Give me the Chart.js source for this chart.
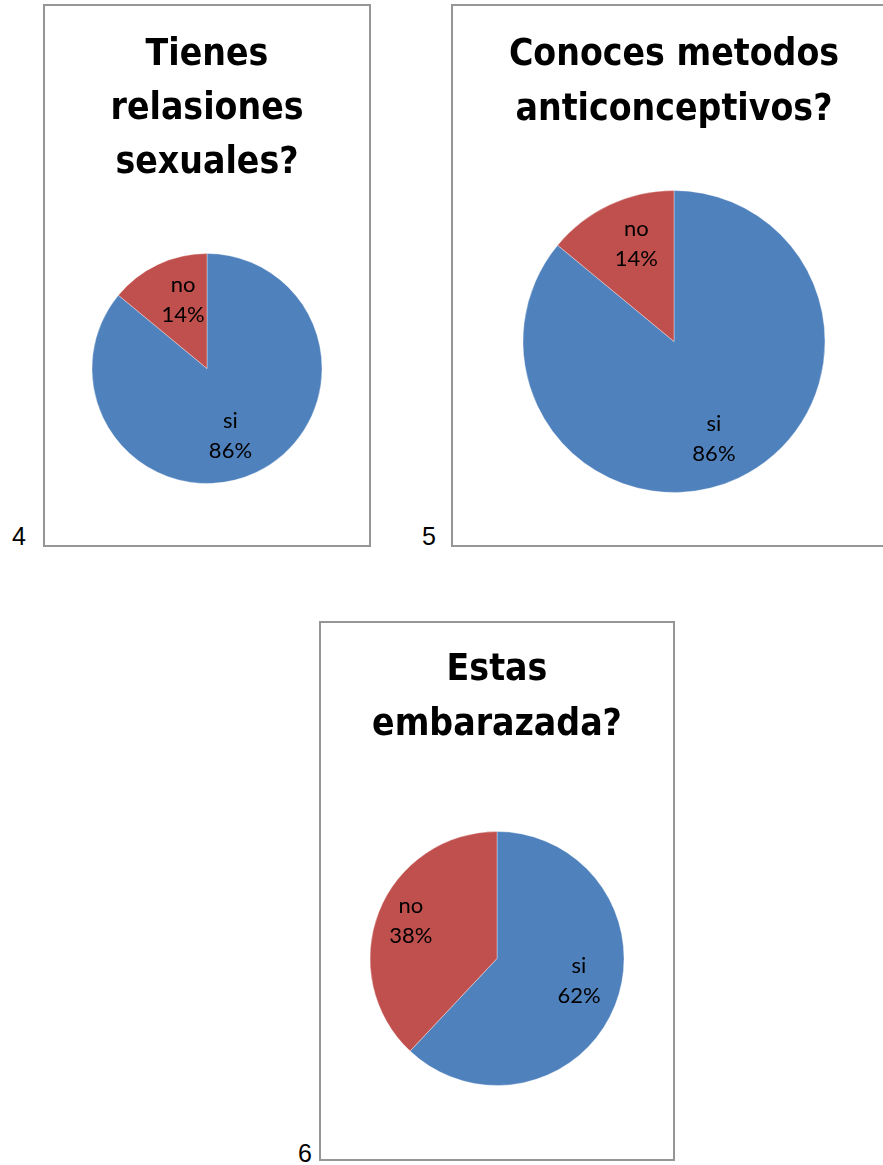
<!DOCTYPE html>
<html lang="es">
<head>
<meta charset="utf-8">
<title>Encuesta: relaciones, anticonceptivos y embarazo</title>
<script src="https://cdn.jsdelivr.net/npm/chart.js@4.4.1/dist/chart.umd.min.js"></script>
<style>
  html, body { margin: 0; padding: 0; background: #ffffff; }
  body { width: 883px; height: 1165px; position: relative; overflow: hidden; }
  .frame { position: absolute; border: 2px solid #969696; background: #ffffff; }
  .frame canvas { display: block; }
  .num { position: absolute; font-family: 'Liberation Sans', Arial, sans-serif; font-size: 25px; color: #000; line-height: 1; }
</style>
</head>
<body>
  <div class="num" style="left:12px; top:524px;">4</div>
  <div class="num" style="left:422px; top:524px;">5</div>
  <div class="num" style="left:298px; top:1141px;">6</div>

  <div class="frame" style="left:43px; top:4px; width:324px; height:539px;">
    <canvas id="chartRelaciones" width="324" height="539"></canvas>
  </div>
  <div class="frame" style="left:451px; top:4px; width:442px; height:539px;">
    <canvas id="chartMetodos" width="442" height="539"></canvas>
  </div>
  <div class="frame" style="left:319px; top:621px; width:352px; height:536px;">
    <canvas id="chartEmbarazada" width="352" height="536"></canvas>
  </div>

<script>
// Answer categories shared by the three questions
const answerLabels = ['si', 'no'];

// Percentages for each question
const relacionesValues = [86, 14];
const metodosValues = [86, 14];
const embarazadaValues = [62, 38];

// Chart titles, one entry per line
const relacionesTitle = ['Tienes', 'relasiones', 'sexuales?'];
const metodosTitle = ['Conoces metodos', 'anticonceptivos?'];
const embarazadaTitle = ['Estas', 'embarazada?'];

const sliceColors = ['#4F81BD', '#C0504D'];
const titleFamily = "'Liberation Sans Narrow', 'Arial Narrow', 'DejaVu Sans Condensed', sans-serif";
const labelFamily = "Lato, 'Open Sans', sans-serif";

// Writes "category / percent" inside each slice, near the slice's mid angle
const sliceLabels = {
  id: 'sliceLabels',
  afterDatasetsDraw(chart, args, opts) {
    const ctx = chart.ctx;
    const meta = chart.getDatasetMeta(0);
    const values = chart.data.datasets[0].data;
    const total = values.reduce((a, b) => a + b, 0);
    ctx.save();
    ctx.font = opts.size + 'px ' + labelFamily;
    ctx.fillStyle = '#000000';
    ctx.textAlign = 'center';
    ctx.textBaseline = 'middle';
    meta.data.forEach((arc, i) => {
      const p = arc.getProps(['x', 'y', 'startAngle', 'endAngle', 'outerRadius'], true);
      const mid = (p.startAngle + p.endAngle) / 2 + opts.shift[i] * Math.PI / 180;
      const r = p.outerRadius * opts.distance[i];
      const cx = p.x + Math.cos(mid) * r;
      const cy = p.y + Math.sin(mid) * r;
      const pct = Math.round(values[i] / total * 100) + '%';
      ctx.fillText(chart.data.labels[i], cx, cy - opts.gap / 2);
      ctx.fillText(pct, cx, cy + opts.gap / 2);
    });
    ctx.restore();
  }
};

function makePie(id, title, values, cfg) {
  return new Chart(document.getElementById(id), {
    type: 'pie',
    data: {
      labels: answerLabels,
      datasets: [{
        data: values,
        backgroundColor: sliceColors,
        borderColor: 'rgba(255,255,255,0.35)',
        borderWidth: 1
      }]
    },
    options: {
      responsive: false,
      animation: false,
      layout: { padding: { top: 0, bottom: cfg.bottomPad, left: 0, right: 0 } },
      plugins: {
        legend: { display: false },
        tooltip: { enabled: false },
        title: {
          display: true,
          text: title,
          color: '#000000',
          font: { family: titleFamily, size: 37, weight: 'bold', lineHeight: cfg.titleLine / 37 },
          padding: { top: cfg.titleTop, bottom: cfg.titleBottom }
        },
        sliceLabels: { size: 22, gap: 30, distance: cfg.labelDist, shift: cfg.labelShift }
      }
    },
    plugins: [sliceLabels]
  });
}

makePie('chartRelaciones', relacionesTitle, relacionesValues,
  { titleLine: 54, titleTop: 22, titleBottom: 63, bottomPad: 61,
    labelDist: [0.62, 0.63], labelShift: [6, 6] });
makePie('chartMetodos', metodosTitle, metodosValues,
  { titleLine: 55, titleTop: 21.5, titleBottom: 52.5, bottomPad: 52,
    labelDist: [0.7, 0.69], labelShift: [3, 4] });
makePie('chartEmbarazada', embarazadaTitle, embarazadaValues,
  { titleLine: 55, titleTop: 19.5, titleBottom: 78.5, bottomPad: 73,
    labelDist: [0.67, 0.74], labelShift: [-6, 2] });
</script>
</body>
</html>
